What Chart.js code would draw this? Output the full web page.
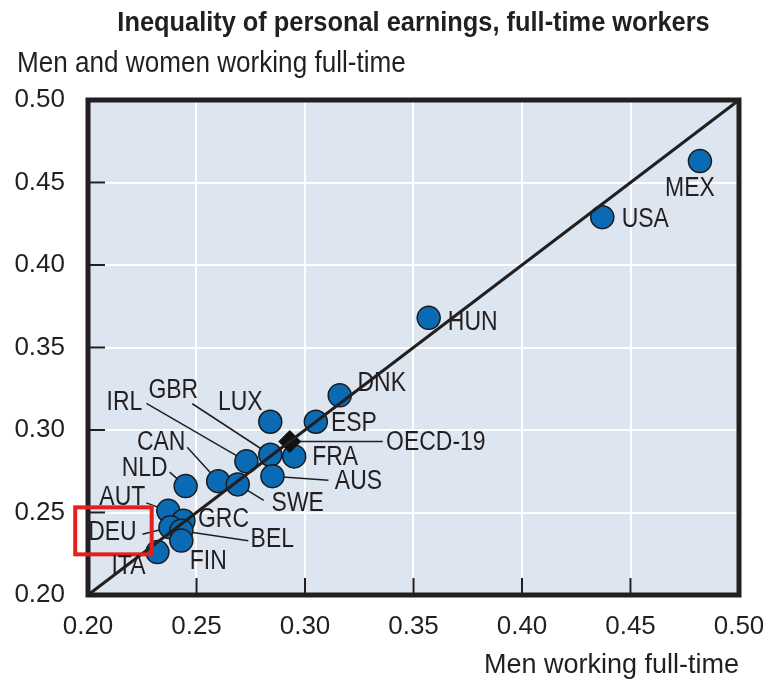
<!DOCTYPE html>
<html>
<head>
<meta charset="utf-8">
<script src="https://cdn.jsdelivr.net/npm/chart.js@4.4.1/dist/chart.umd.min.js"></script>
<style>
    html, body { margin: 0; padding: 0; background: #ffffff; }
    #wrap { width: 763px; height: 687px; }
</style>
</head>
<body>
<div id="wrap"><canvas id="earningsChart"></canvas></div>
<script>
// ===== DATA =====
const countries = ['MEX', 'USA', 'HUN', 'DNK', 'ESP', 'LUX', 'FRA', 'GBR', 'IRL', 'AUS',
    'CAN', 'SWE', 'NLD', 'AUT', 'GRC', 'DEU', 'BEL', 'FIN', 'ITA'];
const menFullTime = [0.482, 0.437, 0.357, 0.316, 0.305, 0.284, 0.295, 0.284, 0.273, 0.285,
    0.260, 0.269, 0.245, 0.237, 0.244, 0.238, 0.243, 0.243, 0.232];
const allFullTime = [0.463, 0.429, 0.368, 0.321, 0.305, 0.305, 0.284, 0.285, 0.281, 0.272,
    0.269, 0.267, 0.266, 0.251, 0.245, 0.241, 0.239, 0.233, 0.226];
const oecdName = ['OECD-19'];
const oecdMen = [0.293];
const oecdAll = [0.293];
const diagonal = [0.20, 0.50];
const xTicks = [0.20, 0.25, 0.30, 0.35, 0.40, 0.45, 0.50];
const yTicks = [0.20, 0.25, 0.30, 0.35, 0.40, 0.45, 0.50];

// label placement relative to the point, in pixels (text centre, leader end)
const placement = {
    'MEX': { dx: -10, dy: 26 },
    'USA': { dx: 43, dy: 1 },
    'HUN': { dx: 44, dy: 4 },
    'DNK': { dx: 42, dy: -13 },
    'ESP': { dx: 38, dy: 1 },
    'LUX': { dx: -30, dy: -20 },
    'FRA': { dx: 41, dy: 0 },
    'GBR': { dx: -97, dy: -65, lead: [-78, -51] },
    'IRL': { dx: -122, dy: -60, lead: [-100, -58] },
    'AUS': { dx: 86, dy: 4, lead: [56, 4] },
    'CAN': { dx: -57, dy: -40, lead: [-31, -34] },
    'SWE': { dx: 60, dy: 18, lead: [26, 16] },
    'NLD': { dx: -41, dy: -19, lead: [-16, -14] },
    'AUT': { dx: -46, dy: -14, lead: [-22, -8] },
    'GRC': { dx: 40, dy: -2 },
    'DEU': { dx: -58, dy: 4, lead: [-28, 7], box: true },
    'BEL': { dx: 91, dy: 8, lead: [67, 10] },
    'FIN': { dx: 27, dy: 20 },
    'ITA': { dx: -29, dy: 13 },
    'OECD-19': { dx: 146, dy: 0, lead: [93, 0] }
};

const FONT = "'Liberation Sans Narrow', 'Liberation Sans', Arial, sans-serif";
const INK = '#231f20';

// draw text squeezed horizontally (the original uses a condensed face)
function narrowText(ctx, text, x, y, squeeze) {
    ctx.save();
    ctx.translate(x, y);
    ctx.scale(squeeze, 1);
    ctx.fillText(text, 0, 0);
    ctx.restore();
}

const frameTicksPlugin = {
    id: 'frameTicks',
    beforeDraw(chart) {
        const { ctx, chartArea: a } = chart;
        ctx.save();
        ctx.fillStyle = '#dde5f1';
        ctx.fillRect(a.left, a.top, a.right - a.left, a.bottom - a.top);
        ctx.restore();
    },
    beforeDatasetsDraw(chart) {
        // leader lines under the dots
        const { ctx } = chart;
        ctx.save();
        ctx.strokeStyle = INK;
        ctx.lineWidth = 1.5;
        chart.data.datasets.forEach((ds, i) => {
            if (!ds.names) return;
            chart.getDatasetMeta(i).data.forEach((pt, idx) => {
                const p = placement[ds.names[idx]];
                if (!p || !p.lead) return;
                ctx.beginPath();
                ctx.moveTo(pt.x, pt.y);
                ctx.lineTo(pt.x + p.lead[0], pt.y + p.lead[1]);
                ctx.stroke();
            });
        });
        ctx.restore();
    },
    afterDatasetsDraw(chart) {
        const { ctx, chartArea: a, scales: { x, y } } = chart;
        ctx.save();
        // inward tick marks
        ctx.strokeStyle = INK;
        ctx.lineWidth = 2;
        xTicks.forEach(v => {
            const px = x.getPixelForValue(v);
            ctx.beginPath();
            ctx.moveTo(px, a.bottom);
            ctx.lineTo(px, a.bottom - 17);
            ctx.stroke();
        });
        yTicks.forEach(v => {
            const py = y.getPixelForValue(v);
            ctx.beginPath();
            ctx.moveTo(a.left, py);
            ctx.lineTo(a.left + 17, py);
            ctx.stroke();
        });
        // frame
        ctx.lineWidth = 5;
        ctx.strokeRect(a.left, a.top, a.right - a.left, a.bottom - a.top);

        // point labels
        ctx.fillStyle = INK;
        ctx.font = '27px ' + FONT;
        ctx.textAlign = 'center';
        ctx.textBaseline = 'middle';
        chart.data.datasets.forEach((ds, i) => {
            if (!ds.names) return;
            chart.getDatasetMeta(i).data.forEach((pt, idx) => {
                const name = ds.names[idx];
                const p = placement[name];
                if (!p) return;
                const tx = pt.x + p.dx;
                const ty = pt.y + p.dy;
                narrowText(ctx, name, tx, ty + 1, 0.85);
                if (p.box) {
                    const w = ctx.measureText(name).width * 0.85;
                    ctx.save();
                    ctx.strokeStyle = '#e3201b';
                    ctx.lineWidth = 4;
                    ctx.strokeRect(tx - w / 2 - 13, ty - 24, w + 28, 47);
                    ctx.restore();
                }
            });
        });
        ctx.restore();
    },
    afterDraw(chart) {
        const { ctx, chartArea: a } = chart;
        ctx.save();
        ctx.fillStyle = INK;
        ctx.textBaseline = 'alphabetic';
        ctx.textAlign = 'center';
        ctx.font = 'bold 27px ' + FONT;
        narrowText(ctx, 'Inequality of personal earnings, full-time workers', (a.left + a.right) / 2, 31, 0.94);
        ctx.textAlign = 'left';
        ctx.font = '30px ' + FONT;
        narrowText(ctx, 'Men and women working full-time', 17, 72, 0.87);
        ctx.restore();
    }
};

new Chart(document.getElementById('earningsChart'), {
    type: 'scatter',
    data: {
        datasets: [{
            label: 'Equality line',
            data: diagonal.map(v => ({ x: v, y: v })),
            showLine: true,
            pointRadius: 0,
            borderColor: INK,
            borderWidth: 3,
            order: 0
        }, {
            label: 'OECD-19',
            names: oecdName,
            data: oecdMen.map((v, i) => ({ x: v, y: oecdAll[i] })),
            pointStyle: 'rectRot',
            pointRadius: 11,
            backgroundColor: '#111111',
            borderColor: '#111111',
            borderWidth: 1,
            order: 1
        }, {
            label: 'Countries',
            names: countries,
            data: menFullTime.map((v, i) => ({ x: v, y: allFullTime[i] })),
            pointRadius: 11.5,
            backgroundColor: '#0a6ab3',
            borderColor: '#1b1b1b',
            borderWidth: 1.5,
            order: 2
        }]
    },
    options: {
        responsive: true,
        maintainAspectRatio: false,
        animation: false,
        layout: {
            padding: { top: 100, right: 24, left: 0, bottom: 0 }
        },
        scales: {
            x: {
                type: 'linear',
                min: 0.20,
                max: 0.50,
                afterBuildTicks: (scale) => { scale.ticks = xTicks.map(v => ({ value: v })); },
                afterFit: (scale) => {
                    scale.height = 92;
                    scale.paddingLeft = 0;
                    scale.paddingRight = 0;
                },
                grid: { color: '#ffffff', lineWidth: 2, drawTicks: false },
                border: { display: false },
                ticks: {
                    padding: 16,
                    color: INK,
                    font: { family: FONT, size: 26 },
                    callback: v => v.toFixed(2)
                },
                title: {
                    display: true,
                    text: 'Men working full-time',
                    align: 'end',
                    color: INK,
                    font: { family: FONT, size: 27 },
                    padding: { top: 0, bottom: 5 }
                }
            },
            y: {
                type: 'linear',
                min: 0.20,
                max: 0.50,
                afterBuildTicks: (scale) => { scale.ticks = yTicks.map(v => ({ value: v })); },
                afterFit: (scale) => { scale.width = 88; },
                grid: { color: '#ffffff', lineWidth: 2, drawTicks: false },
                border: { display: false },
                ticks: {
                    padding: 23,
                    color: INK,
                    font: { family: FONT, size: 26 },
                    callback: v => v.toFixed(2)
                }
            }
        },
        plugins: {
            legend: { display: false },
            tooltip: { enabled: false }
        }
    },
    plugins: [frameTicksPlugin]
});
</script>
</body>
</html>
